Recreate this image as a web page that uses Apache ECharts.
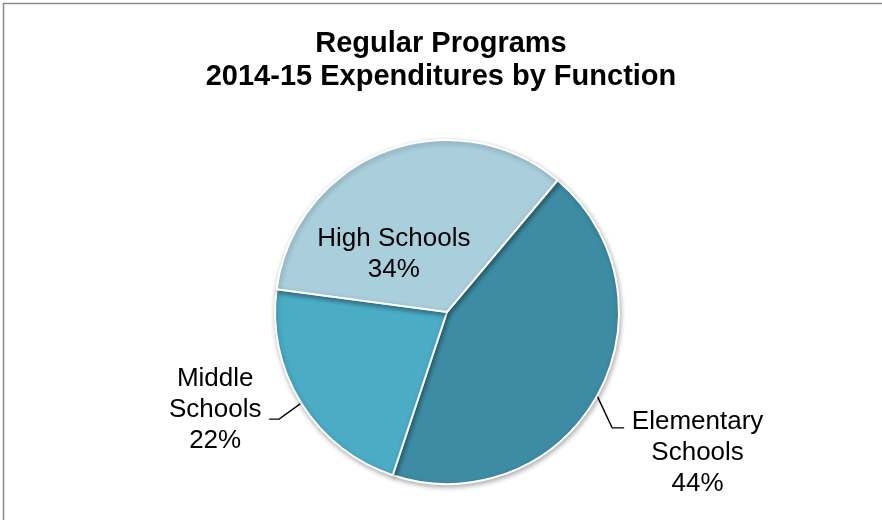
<!DOCTYPE html>
<html>
<head>
<meta charset="utf-8">
<script src="https://cdn.jsdelivr.net/npm/echarts@6/dist/echarts.min.js"></script>
<style>
  html, body { margin: 0; padding: 0; background: #fff; }
  #chart { width: 882px; height: 520px; }
</style>
</head>
<body>
<div id="chart"></div>
<script>
// Regular Programs expenditures, share by school level (percent)
const categories = ['Elementary\nSchools', 'Middle\nSchools', 'High Schools'];
const shares = [44, 22, 34];
const sliceColors = ['#3D8CA3', '#4BACC6', '#A9CEDC'];

const FONT = '"Liberation Sans", Arial, sans-serif';

// label nudges per slice (in px)
const labelShift = [
  { dx: 66, dy: 47 },
  { dx: -52, dy: -4 },
  { dx: -21, dy: 25 }
];
// leader line shape per slice: elbow and end offsets from the point on the rim
const leaderShape = [
  { elbow: [15, 32], end: [27, 32] },
  { elbow: [-22, 16], end: [-32, 16] },
  null
];

const chart = echarts.init(document.getElementById('chart'), null, { renderer: 'canvas' });

const data = categories.map((name, i) => ({
  name: name,
  value: shares[i],
  itemStyle: { color: sliceColors[i] },
  label: i === 2 ? { position: 'inside' } : { position: 'outside' }
}));

chart.setOption({
  animation: false,
  backgroundColor: '#ffffff',
  title: {
    text: 'Regular Programs\n2014-15 Expenditures by Function',
    left: 'center',
    top: 22,
    textStyle: {
      fontFamily: FONT,
      fontSize: 29,
      fontWeight: 'bold',
      color: '#000',
      lineHeight: 33
    }
  },
  graphic: [{
    type: 'rect',
    shape: { x: 3.5, y: 3.5, width: 1000, height: 1000 },
    style: { fill: 'none', stroke: '#8a8a8a', lineWidth: 1.5 },
    silent: true,
    z: -1
  }],
  series: [{
    type: 'pie',
    center: [447, 312],
    radius: [0, 172],
    startAngle: 50,
    clockwise: true,
    data: data,
    itemStyle: {
      borderColor: '#ffffff',
      borderWidth: 2,
      shadowBlur: 5,
      shadowOffsetX: 1,
      shadowOffsetY: 2,
      shadowColor: 'rgba(0,0,0,0.3)'
    },
    label: {
      show: true,
      alignTo: 'none',
      fontFamily: FONT,
      fontSize: 26,
      lineHeight: 31,
      color: '#000',
      formatter: function (p) { return p.name + '\n' + p.value + '%'; }
    },
    labelLine: {
      show: true,
      length: 20,
      length2: 12,
      lineStyle: { color: '#000', width: 1.4 }
    },
    labelLayout: function (p) {
      const s = labelShift[p.dataIndex];
      const out = { dx: s.dx, dy: s.dy, align: 'center' };
      const shape = leaderShape[p.dataIndex];
      if (shape && p.labelLinePoints && p.labelLinePoints.length) {
        const p0 = p.labelLinePoints[0];
        out.labelLinePoints = [
          [p0[0], p0[1]],
          [p0[0] + shape.elbow[0], p0[1] + shape.elbow[1]],
          [p0[0] + shape.end[0], p0[1] + shape.end[1]]
        ];
      }
      return out;
    },
    emphasis: { disabled: true }
  }]
});
</script>
</body>
</html>
